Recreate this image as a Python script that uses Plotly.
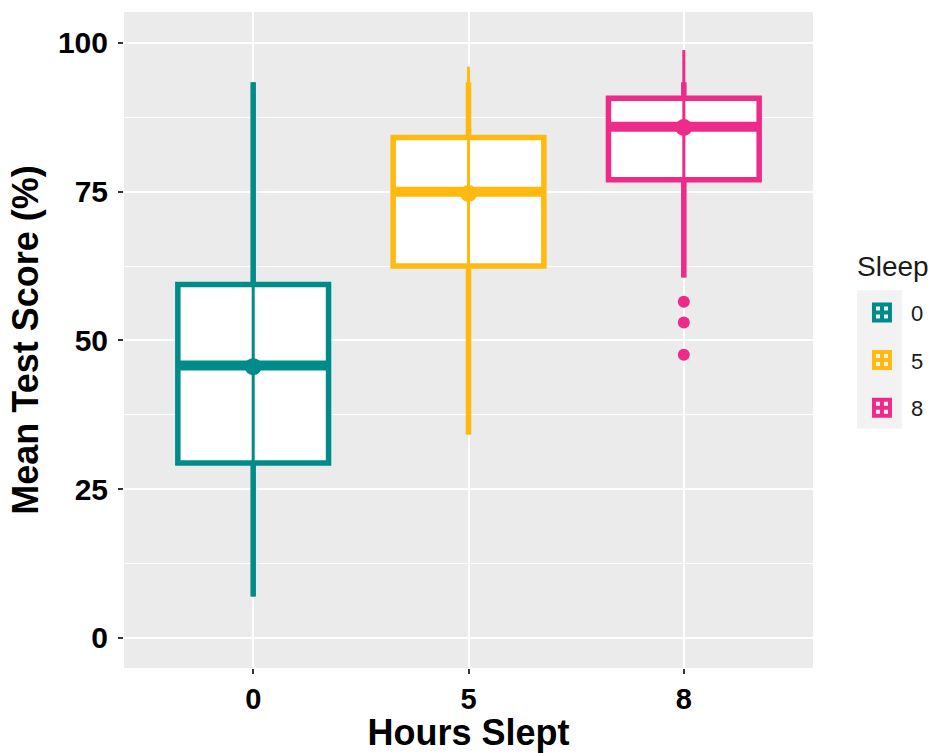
import plotly.graph_objects as go

# ---- data ----
categories = ["0", "5", "8"]
colors = ["#008B8B", "#FFB90F", "#EE2A8A"]

q1 = [29.4, 62.5, 77.0]
median = [45.8, 75.0, 85.9]
q3 = [59.4, 84.1, 90.7]
lower_whisker = [6.95, 34.2, 60.6]
upper_whisker = [93.4, 93.4, 93.4]

mean_score = [45.6, 74.7, 85.8]
range_low = [6.95, 34.2, 60.6]
range_high = [93.4, 96.0, 98.8]

outlier_group = ["8", "8", "8"]
outlier_values = [56.5, 53.0, 47.6]

y_ticks = [0, 25, 50, 75, 100]

BOX_W = 0.7
pos = {c: i for i, c in enumerate(categories)}

fig = go.Figure()

for i, cat in enumerate(categories):
    c = colors[i]
    fig.add_trace(go.Box(
        x=[i], q1=[q1[i]], median=[median[i]], q3=[q3[i]],
        lowerfence=[lower_whisker[i]], upperfence=[upper_whisker[i]],
        width=BOX_W, whiskerwidth=0, boxpoints=False,
        line=dict(color=c, width=5.5), fillcolor="white",
        showlegend=False, hoverinfo="skip",
    ))
    # thick median bar
    fig.add_trace(go.Scatter(
        x=[i - BOX_W / 2, i + BOX_W / 2], y=[median[i], median[i]],
        mode="lines", line=dict(color=c, width=10),
        showlegend=False, hoverinfo="skip",
    ))
    # pointrange (mean with range)
    fig.add_trace(go.Scatter(
        x=[i], y=[mean_score[i]], mode="markers",
        marker=dict(color=c, size=17),
        error_y=dict(type="data", symmetric=False,
                     array=[range_high[i] - mean_score[i]],
                     arrayminus=[mean_score[i] - range_low[i]],
                     width=0, thickness=3, color=c),
        showlegend=False, hoverinfo="skip",
    ))

# outliers
fig.add_trace(go.Scatter(
    x=[pos[g] for g in outlier_group], y=outlier_values, mode="markers",
    marker=dict(color=colors[2], size=12),
    showlegend=False, hoverinfo="skip",
))

# legend entries
for i, cat in enumerate(categories):
    fig.add_trace(go.Scatter(
        x=[None], y=[None], mode="markers", name=cat, legendgroup=cat,
        marker=dict(symbol="square-cross-open", size=16, color=colors[i],
                    line=dict(width=4, color=colors[i])),
    ))

font_family = "Liberation Sans, Arial, sans-serif"

fig.update_layout(
    width=934, height=753,
    margin=dict(l=124, r=121, t=12, b=85, autoexpand=False),
    paper_bgcolor="white", plot_bgcolor="#EBEBEB",
    boxmode="overlay",
    font=dict(family=font_family, color="black"),
    legend=dict(
        font=dict(size=22, color="#1A1A1A"),
        x=1.058, xanchor="left", y=0.5736, yanchor="top",
        tracegroupgap=16, bgcolor="rgba(0,0,0,0)",
        itemsizing="trace", itemwidth=48,
    ),
    annotations=[dict(
        text="Sleep", xref="paper", yref="paper", x=1.061, y=0.6128,
        xanchor="left", yanchor="middle", showarrow=False,
        font=dict(size=28, color="#1A1A1A"),
    )],
    shapes=[dict(
        type="rect", xref="paper", yref="paper",
        x0=1.064, x1=1.129, y0=0.365, y1=0.576,
        fillcolor="#F2F2F2", line=dict(width=0), layer="below",
    )],
    xaxis=dict(
        range=[-0.6, 2.6], tickvals=list(range(len(categories))), ticktext=categories,
        showgrid=True, gridcolor="white", gridwidth=2,
        zeroline=False, ticks="outside", ticklen=5, tickwidth=2, tickcolor="#333333",
        tickfont=dict(size=29, color="black", weight="bold"),
        title=dict(text="Hours Slept", font=dict(size=36, color="black", weight="bold"), standoff=3),
        showline=False, automargin=False,
    ),
    yaxis=dict(
        range=[-5.05, 105.2], tickvals=y_ticks,
        showgrid=True, gridcolor="white", gridwidth=2,
        minor=dict(dtick=12.5, tick0=0, showgrid=True, gridcolor="white", gridwidth=1),
        zeroline=False, ticks="outside", ticklen=5, tickwidth=2, tickcolor="#333333",
        tickfont=dict(size=30, color="black", weight="bold"),
        ticklabelstandoff=4,
        title=dict(text="Mean Test Score (%)", font=dict(size=36, color="black", weight="bold"), standoff=8),
        showline=False, automargin=False,
    ),
)

fig.write_html("out.html", config={"displayModeBar": False},
               post_script="document.body.style.margin='0';")
